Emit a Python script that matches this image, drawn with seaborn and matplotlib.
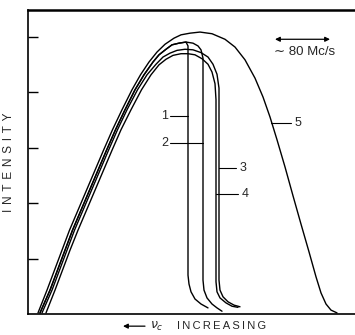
import matplotlib
matplotlib.use("Agg")
import matplotlib.pyplot as plt
import seaborn as sns
import pandas as pd

# === data: x = relative frequency (arb. units), y = intensity ===
c1_x = [12, 22, 29.5, 37, 44.5, 53, 61.5, 70, 78.5, 87.5, 97, 107, 116, 125, 131, 138, 144, 151, 158,
        160, 160, 160, 161, 163, 167, 173, 180]
c1_y = [0.02, 0.43, 0.79, 1.15, 1.51, 1.87, 2.23, 2.59, 2.95, 3.32, 3.68, 4.04, 4.31, 4.54, 4.67, 4.77,
        4.85, 4.88, 4.90, 4.83, 2.95, 0.70, 0.54, 0.40, 0.27, 0.18, 0.11]

c2_x = [12, 22, 29.5, 37, 44.5, 53, 61.5, 70, 78.5, 87.5, 97, 107, 116, 125, 131, 138, 144, 151, 158,
        165, 170, 173, 175, 175, 175, 176, 179, 184, 189, 194]
c2_y = [0.02, 0.43, 0.79, 1.15, 1.51, 1.87, 2.23, 2.59, 2.95, 3.32, 3.68, 4.04, 4.31, 4.54, 4.67, 4.77,
        4.85, 4.88, 4.90, 4.88, 4.83, 4.76, 4.61, 4.40, 0.61, 0.43, 0.29, 0.18, 0.11, 0.05]

c3_x = [14, 24, 31.5, 39, 46.5, 55, 63.5, 72, 80.5, 89.5, 99, 109.5, 119, 128, 135, 142, 149, 157,
        165, 173, 180, 185, 189, 191, 191, 191, 192, 195, 200, 206, 212]
c3_y = [0.02, 0.43, 0.79, 1.15, 1.51, 1.87, 2.23, 2.59, 2.95, 3.32, 3.68, 4.04, 4.31, 4.50, 4.63, 4.70,
        4.75, 4.77, 4.76, 4.71, 4.63, 4.50, 4.32, 4.07, 3.86, 0.61, 0.43, 0.31, 0.22, 0.16, 0.13]

c4_x = [18, 27, 34.5, 42, 50, 58.5, 67, 75.5, 84, 93, 103, 113.5, 123, 131, 138, 145, 153, 160,
        167, 174, 180, 184, 187, 188, 188, 189, 192, 198, 204, 210]
c4_y = [0.02, 0.43, 0.79, 1.15, 1.51, 1.87, 2.23, 2.59, 2.95, 3.32, 3.68, 4.04, 4.31, 4.49, 4.59, 4.66,
        4.69, 4.69, 4.67, 4.60, 4.50, 4.36, 4.15, 3.86, 0.58, 0.40, 0.29, 0.20, 0.14, 0.12]

c5_x = [10, 19, 26.5, 34, 41.5, 50, 58.5, 67, 75.5, 84.5, 94, 104, 112.5, 121, 129, 137, 146, 153,
        162, 172, 184, 197, 207, 217, 227, 235, 242, 249, 257, 265, 273, 281, 288, 293, 298, 303, 309]
c5_y = [0.02, 0.43, 0.79, 1.15, 1.51, 1.87, 2.23, 2.59, 2.95, 3.32, 3.68, 4.04, 4.31, 4.54, 4.72, 4.86,
        4.97, 5.03, 5.06, 5.08, 5.05, 4.95, 4.81, 4.58, 4.25, 3.91, 3.55, 3.14, 2.65, 2.13, 1.62, 1.12,
        0.67, 0.38, 0.18, 0.07, 0.02]

curve_names = ['1', '2', '3', '4', '5']
# label text position and leader line (start x, end x) for each curve
label_x = [137, 137, 215, 217, 270]
label_y = [3.57, 3.08, 2.63, 2.16, 3.44]
leader_x0 = [142, 142, 208, 210, 263]
leader_x1 = [160, 175, 191, 188, 243]

frames = []
for name, xs, ys in zip(curve_names, [c1_x, c2_x, c3_x, c4_x, c5_x], [c1_y, c2_y, c3_y, c4_y, c5_y]):
    frames.append(pd.DataFrame({'freq': xs, 'intensity': ys, 'curve': name}))
df = pd.concat(frames, ignore_index=True)

# === plot ===
sns.set_style("ticks")
plt.rcParams['font.family'] = ['Liberation Sans', 'DejaVu Sans']


def spaced(s, gap='\u2009'):
    return gap.join(s)


fig = plt.figure(figsize=(3.55, 3.35), dpi=100)
ax = fig.add_axes([28 / 355, 21 / 335, 1 - 28 / 355, 304 / 335])

sns.lineplot(data=df, x='freq', y='intensity', units='curve', estimator=None, sort=False,
             color='black', linewidth=1.0, ax=ax, legend=False)

for name, lx, ly, x0, x1 in zip(curve_names, label_x, label_y, leader_x0, leader_x1):
    ax.plot([x0, x1], [ly, ly], color='black', linewidth=0.8)
    ax.text(lx, ly, name, fontsize=9, ha='center', va='center')

# scale bar
ax.annotate('', xy=(247, 4.95), xytext=(302, 4.95),
            arrowprops=dict(arrowstyle='<|-|>', color='black', lw=0.9, mutation_scale=7, shrinkA=0, shrinkB=0))
ax.text(277, 4.72, '\u223c 80 Mc/s', fontsize=9.5, ha='center', va='center')

ax.set_xlim(0, 327)
ax.set_ylim(0, 304 / 55.5)
ax.set_yticks([1, 2, 3, 4, 5])
ax.set_yticklabels([])
ax.set_xticks([])
ax.tick_params(axis='y', direction='in', length=7, width=1.0, color='black')
ax.set_xlabel('')
ax.set_ylabel(spaced('INTENSITY', '\u2009\u2009'), fontsize=8.5, labelpad=6)

for side in ['left', 'bottom']:
    ax.spines[side].set_linewidth(1.2)
    ax.spines[side].set_color('black')
ax.spines['top'].set_linewidth(1.8)
ax.spines['top'].set_color('black')
ax.spines['right'].set_visible(False)

# x-axis caption with arrow
ax.annotate('', xy=(95 / 327, -0.04), xytext=(117 / 327, -0.04), xycoords='axes fraction',
            textcoords='axes fraction', annotation_clip=False,
            arrowprops=dict(arrowstyle='-|>', color='black', lw=0.9, mutation_scale=7, shrinkA=0, shrinkB=0))
ax.text(122 / 327, -0.04, r'$\nu_c$', fontsize=9, ha='left', va='center', transform=ax.transAxes)
ax.text(149 / 327, -0.04, spaced('INCREASING'), fontsize=8, ha='left', va='center',
        transform=ax.transAxes)

plt.savefig('out.png', dpi=100)
